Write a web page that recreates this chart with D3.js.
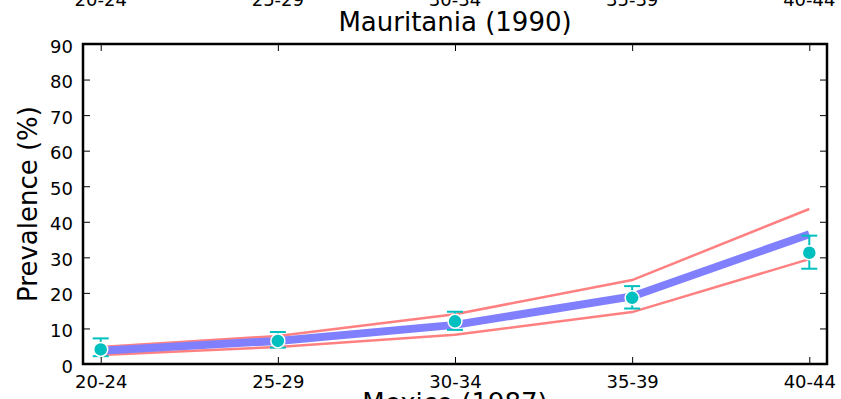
<!DOCTYPE html>
<html>
  <head>
    <title>Mauritania (1990)</title>
    <script src="https://d3js.org/d3.v7.min.js"></script>
    <style>
      body { margin: 0; background: #fff; }
      text { font-family: "DejaVu Sans", sans-serif; fill: #000; }
    </style>
  </head>
  <body>
    <div id="chart"></div>
    <script>
      // age groups and values
      var ageGroups = ["20-24", "25-29", "30-34", "35-39", "40-44"];
      var modelMean = [3.7, 6.5, 11.0, 19.0, 36.5];
      var modelUpper = [4.8, 7.9, 14.0, 23.6, 43.6];
      var modelLower = [2.5, 4.8, 8.2, 14.6, 29.5];
      var observed = [4.1, 6.5, 12.0, 18.6, 31.3];
      var obsHigh = [7.2, 9.0, 14.7, 21.9, 36.1];
      var obsLow = [2.2, 4.6, 9.6, 15.6, 26.8];
      var yTicks = [0, 10, 20, 30, 40, 50, 60, 70, 80, 90];

      var width = 841, height = 399;
      var margin = { left: 83, right: 14, top: 44, bottom: 35 };
      var iw = width - margin.left - margin.right,
        ih = height - margin.top - margin.bottom;

      var svg = d3.select("#chart").append("svg")
        .attr("width", width)
        .attr("height", height);

      var x = d3.scaleLinear().domain([-0.1, 4.1]).range([0, iw]);
      var y = d3.scaleLinear().domain([0, 90]).range([ih, 0]);

      var g = svg.append("g")
        .attr("transform", "translate(" + margin.left + "," + margin.top + ")");

      // model lines
      var line = function (vals) {
        return d3.line()
          .x(function (d, i) { return x(i); })
          .y(function (d) { return y(d); })(vals);
      };
      g.append("path").attr("d", line(modelUpper))
        .attr("fill", "none").attr("stroke", "#ff8080").attr("stroke-width", 2.5);
      g.append("path").attr("d", line(modelLower))
        .attr("fill", "none").attr("stroke", "#ff8080").attr("stroke-width", 2.5);
      g.append("path").attr("d", line(modelMean))
        .attr("fill", "none").attr("stroke", "#8080ff").attr("stroke-width", 8);

      // observed points with error bars
      var eb = g.append("g").attr("stroke", "#00bfbf").attr("stroke-width", 2);
      observed.forEach(function (v, i) {
        eb.append("line").attr("x1", x(i)).attr("x2", x(i))
          .attr("y1", y(obsLow[i])).attr("y2", y(obsHigh[i]));
        eb.append("line").attr("x1", x(i) - 8).attr("x2", x(i) + 8)
          .attr("y1", y(obsLow[i])).attr("y2", y(obsLow[i]));
        eb.append("line").attr("x1", x(i) - 8).attr("x2", x(i) + 8)
          .attr("y1", y(obsHigh[i])).attr("y2", y(obsHigh[i]));
      });
      g.selectAll("circle.obs").data(observed).enter().append("circle")
        .attr("class", "obs")
        .attr("cx", function (d, i) { return x(i); })
        .attr("cy", function (d) { return y(d); })
        .attr("r", 7)
        .attr("fill", "#00bfbf")
        .attr("stroke", "#fff")
        .attr("stroke-width", 1.5);

      // axes, ticks inward on all sides
      var xTickFmt = function (i) { return ageGroups[i]; };
      var xb = g.append("g").attr("transform", "translate(0," + ih + ")")
        .call(d3.axisBottom(x).tickValues(d3.range(5)).tickFormat(xTickFmt)
          .tickSizeInner(-7).tickSizeOuter(0).tickPadding(11));
      var xt = g.append("g")
        .call(d3.axisTop(x).tickValues(d3.range(5)).tickFormat("")
          .tickSizeInner(-7).tickSizeOuter(0));
      var yl = g.append("g")
        .call(d3.axisLeft(y).tickValues(yTicks)
          .tickSizeInner(-7).tickSizeOuter(0).tickPadding(10));
      var yr = g.append("g").attr("transform", "translate(" + iw + ",0)")
        .call(d3.axisRight(y).tickValues(yTicks).tickFormat("")
          .tickSizeInner(-7).tickSizeOuter(0));
      [xb, xt, yl, yr].forEach(function (a) {
        a.select(".domain").remove();
        a.selectAll(".tick line").attr("stroke", "#000").attr("stroke-width", 1);
        a.selectAll("text").attr("font-size", 18).attr("fill", "#000")
          .attr("font-family", "DejaVu Sans, sans-serif");
      });
      yl.selectAll("text").attr("dy", "0.45em");

      g.append("rect").attr("width", iw).attr("height", ih)
        .attr("fill", "none").attr("stroke", "#000").attr("stroke-width", 2.5);

      // title and labels
      svg.append("text").attr("x", margin.left + iw / 2).attr("y", 31)
        .attr("text-anchor", "middle").attr("font-size", 26)
        .text("Mauritania (1990)");
      svg.append("text")
        .attr("transform", "translate(37," + (margin.top + ih / 2) + ") rotate(-90)")
        .attr("text-anchor", "middle").attr("font-size", 26)
        .text("Prevalence (%)");

      // clipped labels from the neighbouring panels
      svg.selectAll("text.topcut").data(ageGroups).enter().append("text")
        .attr("class", "topcut")
        .attr("x", function (d, i) { return margin.left + x(i); })
        .attr("y", 6)
        .attr("text-anchor", "middle").attr("font-size", 18)
        .text(function (d) { return d; });
      svg.append("text").attr("x", margin.left + iw / 2).attr("y", 412)
        .attr("text-anchor", "middle").attr("font-size", 26)
        .text("Mexico (1987)");
    </script>
  </body>
</html>
